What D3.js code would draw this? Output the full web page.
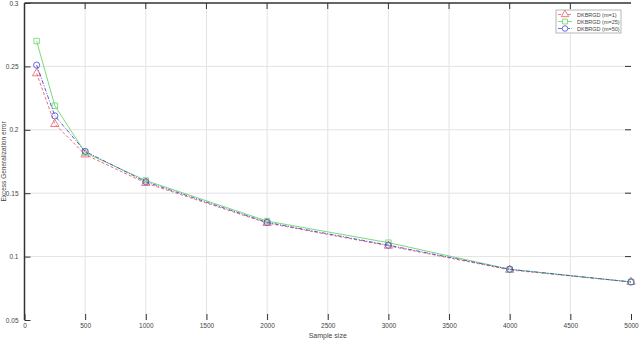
<!DOCTYPE html>
<html>
<head>
<meta charset="utf-8">
<script src="https://cdn.jsdelivr.net/npm/d3@7"></script>
<style>
  body { margin: 0; background: #fff; }
  text { font-family: "Liberation Sans", Arial, sans-serif; fill: #444; }
</style>
</head>
<body>
<div id="chart"></div>
<script>
// data
var sampleSizes = [100, 250, 500, 1000, 2000, 3000, 4000, 5000];
var errM1  = [0.2445, 0.2045, 0.1805, 0.158, 0.1265, 0.1085, 0.0895, 0.0800];
var errM25 = [0.2700, 0.2190, 0.1820, 0.160, 0.1280, 0.1110, 0.0900, 0.0800];
var errM50 = [0.2510, 0.2110, 0.1830, 0.159, 0.1270, 0.1090, 0.0900, 0.0800];
var seriesNames = ["DKBRGD (m=1)", "DKBRGD (m=25)", "DKBRGD (m=50)"];
var xTicks = [0, 500, 1000, 1500, 2000, 2500, 3000, 3500, 4000, 4500, 5000];
var yTicks = [0.05, 0.1, 0.15, 0.2, 0.25, 0.3];

var width = 640, height = 340;
var margin = {top: 3, right: 9, bottom: 20, left: 24.5};

var svg = d3.select("#chart").append("svg")
    .attr("width", width)
    .attr("height", height);

var x = d3.scaleLinear().domain([0, 5000]).range([margin.left, width - margin.right]);
var y = d3.scaleLinear().domain([0.05, 0.3]).range([height - margin.bottom, margin.top]);

// grid
svg.append("g").selectAll("line").data(xTicks.slice(1, -1)).join("line")
    .attr("x1", d => x(d)).attr("x2", d => x(d))
    .attr("y1", y(0.3)).attr("y2", y(0.05))
    .attr("stroke", "#e3e3e3").attr("stroke-width", 1);
svg.append("g").selectAll("line").data(yTicks.slice(1, -1)).join("line")
    .attr("x1", x(0)).attr("x2", x(5000))
    .attr("y1", d => y(d)).attr("y2", d => y(d))
    .attr("stroke", "#e3e3e3").attr("stroke-width", 1);

// axes (box style: left + top dark, ticks inside)
var xAxis = svg.append("g")
    .attr("transform", "translate(0," + y(0.05) + ")")
    .call(d3.axisBottom(x).tickValues(xTicks).tickSize(-6).tickPadding(3).tickFormat(d3.format("d")));
xAxis.select(".domain").remove();
xAxis.selectAll(".tick line").attr("stroke", "#333");
xAxis.selectAll("text").attr("font-size", 6.5).attr("fill", "#555");

var yAxis = svg.append("g")
    .attr("transform", "translate(" + x(0) + ",0)")
    .call(d3.axisLeft(y).tickValues(yTicks).tickSize(-6).tickPadding(6).tickFormat(d3.format("")));
yAxis.select(".domain").remove();
yAxis.selectAll(".tick line").attr("stroke", "#333");
yAxis.selectAll("text").attr("font-size", 6.5).attr("fill", "#555");

// right ticks
svg.append("g").selectAll("line").data(yTicks.slice(1, -1)).join("line")
    .attr("x1", x(5000) - 6).attr("x2", x(5000))
    .attr("y1", d => y(d)).attr("y2", d => y(d))
    .attr("stroke", "#333");
// top ticks
svg.append("g").selectAll("line").data(xTicks.slice(1, -1)).join("line")
    .attr("x1", d => x(d)).attr("x2", d => x(d))
    .attr("y1", y(0.3)).attr("y2", y(0.3) + 6)
    .attr("stroke", "#333");

svg.append("line")
    .attr("x1", x(0)).attr("x2", x(0)).attr("y1", y(0.3)).attr("y2", y(0.05))
    .attr("stroke", "#333").attr("stroke-width", 1.5);
svg.append("line")
    .attr("x1", x(0)).attr("x2", x(5000)).attr("y1", y(0.3)).attr("y2", y(0.3))
    .attr("stroke", "#333").attr("stroke-width", 1.5);

// axis titles
svg.append("text")
    .attr("x", x(2500)).attr("y", height - 2)
    .attr("text-anchor", "middle").attr("font-size", 7)
    .text("Sample size");
svg.append("text")
    .attr("transform", "translate(6," + y(0.175) + ") rotate(-90)")
    .attr("text-anchor", "middle").attr("font-size", 6.5)
    .text("Excess Generalization error");

// series
var series = [
  {name: seriesNames[0], values: errM1,  color: "#ec5a64", dash: "3,2", shape: d3.symbolTriangle},
  {name: seriesNames[1], values: errM25, color: "#66d866", dash: null,  shape: d3.symbolSquare},
  {name: seriesNames[2], values: errM50, color: "#4848d8", dash: "4,1.5,1,1.5", shape: d3.symbolCircle}
];

var line = d3.line()
    .x(d => x(d[0]))
    .y(d => y(d[1]));

series.forEach(function(s) {
  var pts = sampleSizes.map((v, i) => [v, s.values[i]]);
  svg.append("path")
      .datum(pts)
      .attr("fill", "none")
      .attr("stroke", s.color)
      .attr("stroke-width", 0.9)
      .attr("stroke-dasharray", s.dash)
      .attr("d", line);
  svg.append("g").selectAll("path").data(pts).join("path")
      .attr("transform", d => "translate(" + x(d[0]) + "," + y(d[1]) + ")")
      .attr("d", d3.symbol().type(s.shape).size(30))
      .attr("fill", "none")
      .attr("stroke", s.color)
      .attr("stroke-width", 0.8);
});

// legend
var lg = svg.append("g").attr("transform", "translate(556,10)");
lg.append("rect")
    .attr("width", 65).attr("height", 23)
    .attr("fill", "#fff").attr("stroke", "#999").attr("stroke-width", 0.7);
series.forEach(function(s, i) {
  var row = lg.append("g").attr("transform", "translate(0," + (4.5 + i * 7) + ")");
  row.append("line")
      .attr("x1", 2).attr("x2", 16)
      .attr("stroke", s.color).attr("stroke-width", 0.8)
      .attr("stroke-dasharray", s.dash);
  row.append("path")
      .attr("transform", "translate(9,0)")
      .attr("d", d3.symbol().type(s.shape).size(24))
      .attr("fill", "#fff")
      .attr("stroke", s.color)
      .attr("stroke-width", 0.8);
  row.append("text")
      .attr("x", 21).attr("y", 2)
      .attr("font-size", 5.5).attr("fill", "#333")
      .text(s.name);
});
</script>
</body>
</html>
